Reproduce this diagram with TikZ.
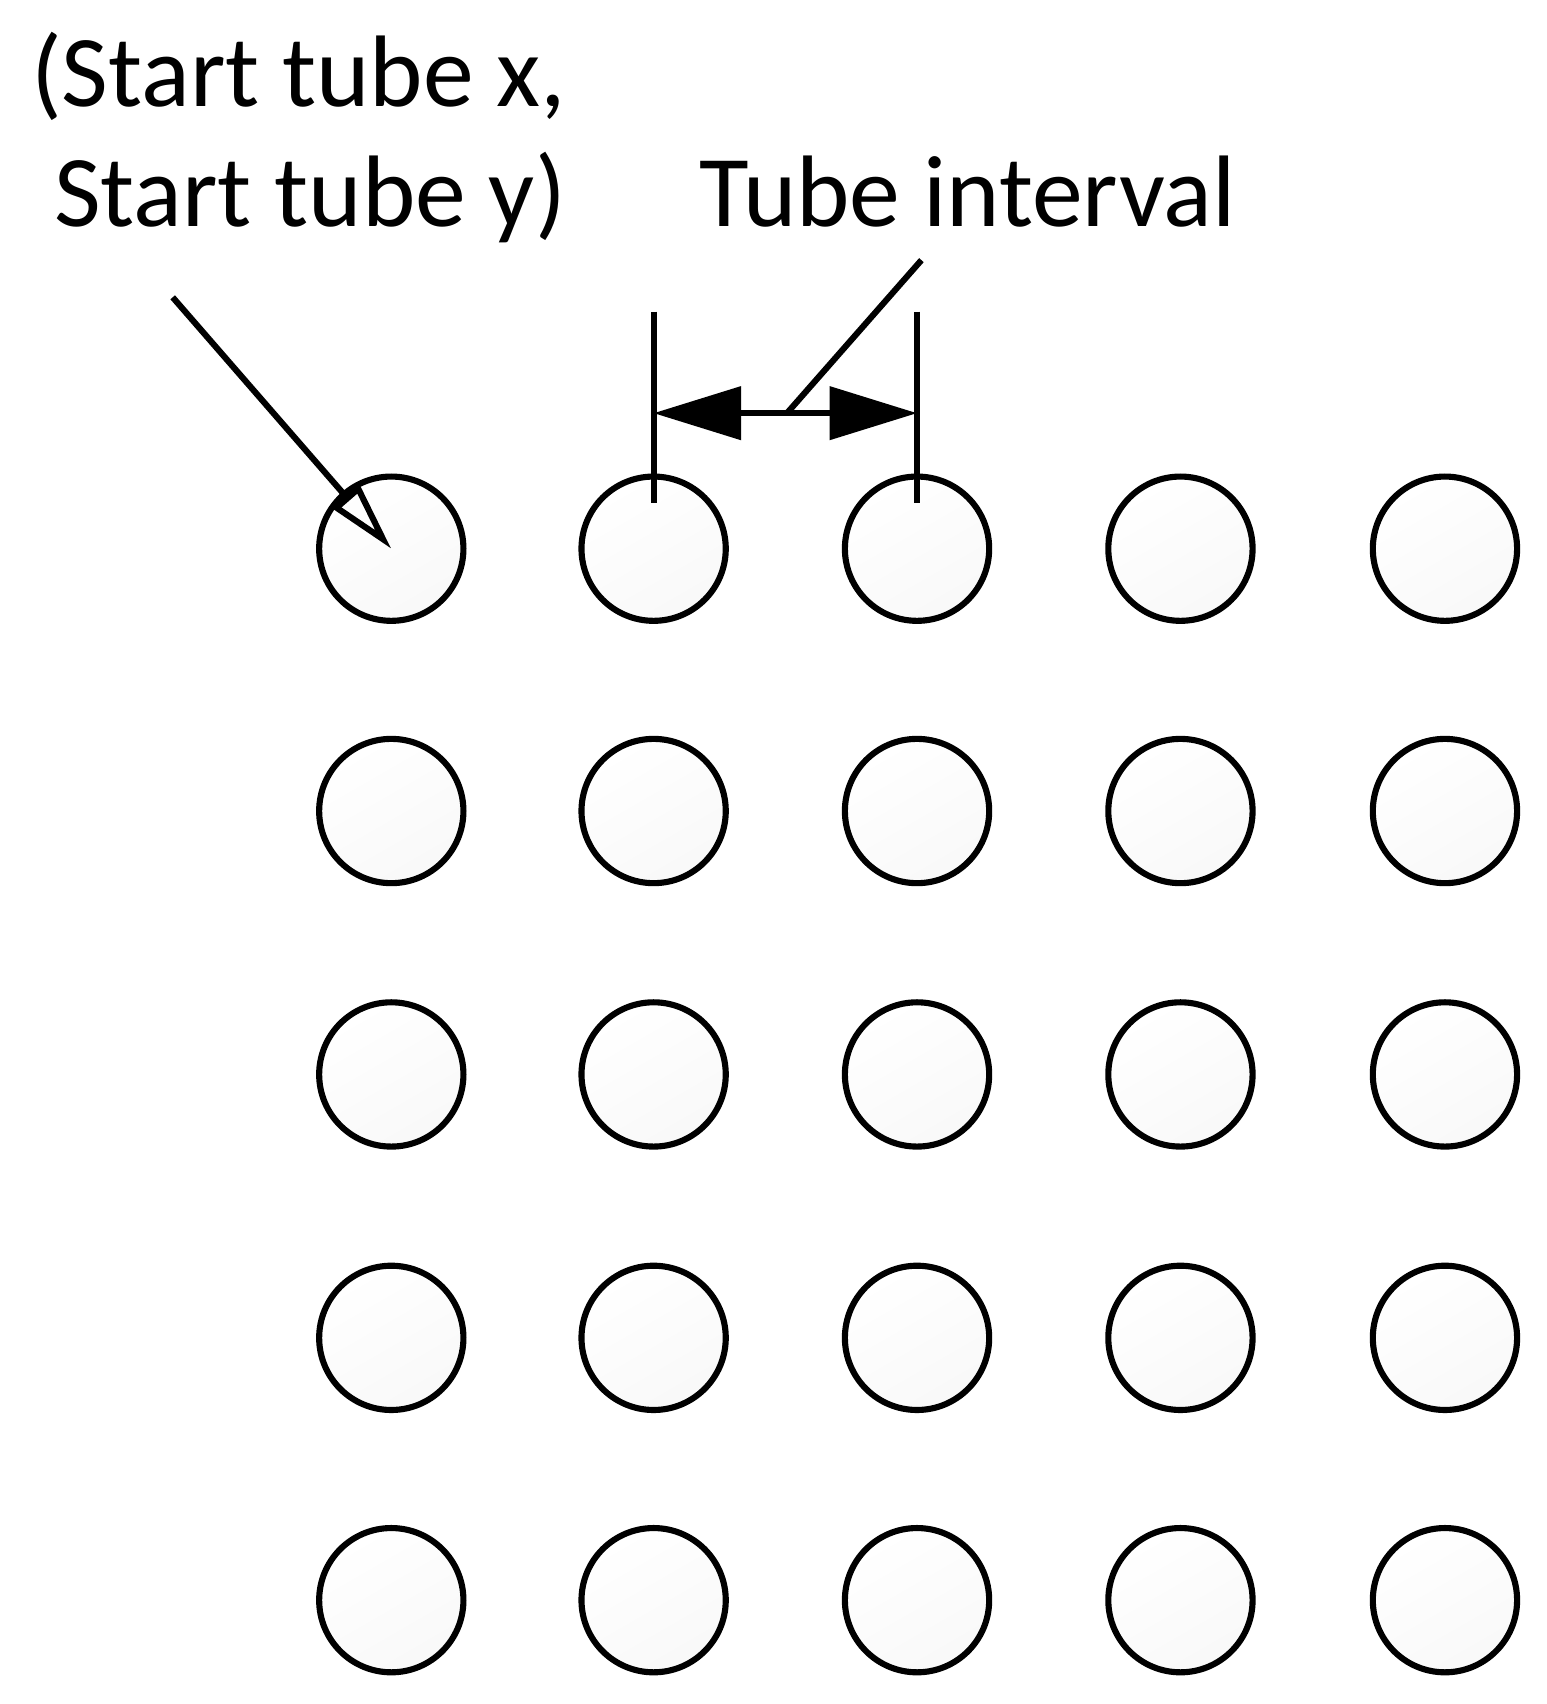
\documentclass[tikz,border=0pt]{standalone}
\usepackage{fontspec}
\setmainfont{Carlito}
\usetikzlibrary{arrows.meta}
\begin{document}
\begin{tikzpicture}[x=0.5pt,y=-0.5pt,
  tube/.style={circle,draw,line width=2.8pt,minimum size=66pt,inner sep=0pt,top color=white,bottom color=gray!5,shading angle=30},
  ln/.style={line width=2.8pt},
  lbl/.style={font=\fontsize{46.5}{55}\selectfont,inner sep=0pt,align=left}]
\useasboundingbox (0,0) rectangle (1415,1559);
\foreach \i/\x in {1/358,2/598,3/839,4/1080,5/1322}
  \foreach \j/\y in {1/502,2/742,3/983,4/1224,5/1464}
    \node[tube] (t\i\j) at (\x,\y) {};
\node[lbl,anchor=base west] (s) at (28,207) {(Start tube x,\\\ Start tube y)};
\node[lbl,anchor=base west] (ti) at (640,207) {Tube interval};
\coordinate (sa) at (158,272);
\draw[ln,-{Triangle[open,length=32pt,width=16pt,line width=2.8pt]}] (sa) -- (t11.center);
\coordinate (l1) at (598,285); \coordinate (l1b) at (598,460);
\coordinate (l2) at (839,285); \coordinate (l2b) at (839,460);
\draw[ln] (l1) -- (l1b);
\draw[ln] (l2) -- (l2b);
\coordinate (a1) at (598,378); \coordinate (a2) at (839,378);
\draw[ln,{Triangle[length=40pt,width=24pt]}-{Triangle[length=40pt,width=24pt]}] (a1) -- (a2);
\coordinate (m) at (720,378); \coordinate (me) at (843,238);
\draw[ln] (m) -- (me);
\end{tikzpicture}
\end{document}
